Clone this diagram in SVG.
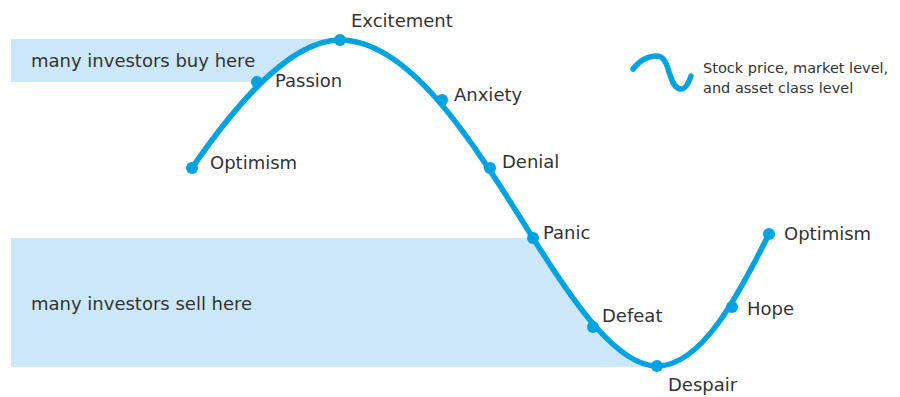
<svg xmlns="http://www.w3.org/2000/svg" width="900" height="397" viewBox="0 0 900 397">
  <style>
    .lbl { font-family: "DejaVu Sans", "Liberation Sans", sans-serif; font-size: 18px; fill: #333333; }
    .legend { font-family: "DejaVu Sans", "Liberation Sans", sans-serif; font-size: 14.5px; fill: #333333; }
    .zone { fill: #cce7f7; }
    .curve { fill: none; stroke: #00a3e0; stroke-width: 5.5; stroke-linecap: round; stroke-linejoin: round; }
    .dot { fill: #00a3e0; }
  </style>
  <defs>
    <!-- area left of the rising flank -->
    <clipPath id="clip-buy">
      <path d="M0,0 L340,0 L340,40 C285,40 225,120 192,168 L0,168 Z"/>
    </clipPath>
    <!-- area left of the falling flank -->
    <clipPath id="clip-sell">
      <path d="M0,230 L533,230 L533,238 C573,302 617,366 657,366 L657,400 L0,400 Z"/>
    </clipPath>
  </defs>

  <rect width="900" height="397" fill="#ffffff"/>

  <!-- shaded zones -->
  <g id="zone-buy">
    <rect class="zone" x="11" y="39" width="340" height="43" clip-path="url(#clip-buy)"/>
    <text class="lbl" x="31" y="67">many investors buy here</text>
  </g>
  <g id="zone-sell">
    <rect class="zone" x="11" y="238" width="660" height="129" clip-path="url(#clip-sell)"/>
    <text class="lbl" x="31" y="310">many investors sell here</text>
  </g>

  <!-- market cycle curve -->
  <g id="connectors">
    <path class="curve" d="M192,168 C225,120 285,40 340,40 C410,40 473,142 533,238 C573,302 617,366 657,366 C702,366 739,294 769,234"/>
  </g>

  <!-- stages -->
  <g id="optimism-start">
    <circle class="dot" cx="192" cy="168" r="6"/>
    <text class="lbl" x="210" y="169">Optimism</text>
  </g>
  <g id="passion">
    <circle class="dot" cx="257" cy="82" r="6"/>
    <text class="lbl" x="275" y="87">Passion</text>
  </g>
  <g id="excitement">
    <circle class="dot" cx="340" cy="40" r="6"/>
    <text class="lbl" x="351" y="27">Excitement</text>
  </g>
  <g id="anxiety">
    <circle class="dot" cx="442" cy="100" r="6"/>
    <text class="lbl" x="454" y="101">Anxiety</text>
  </g>
  <g id="denial">
    <circle class="dot" cx="490" cy="168" r="6"/>
    <text class="lbl" x="502" y="168">Denial</text>
  </g>
  <g id="panic">
    <circle class="dot" cx="533" cy="238" r="6"/>
    <text class="lbl" x="543" y="239">Panic</text>
  </g>
  <g id="defeat">
    <circle class="dot" cx="593" cy="327" r="6"/>
    <text class="lbl" x="602" y="322">Defeat</text>
  </g>
  <g id="despair">
    <circle class="dot" cx="657" cy="366" r="6"/>
    <text class="lbl" x="668" y="391">Despair</text>
  </g>
  <g id="hope">
    <circle class="dot" cx="732" cy="307" r="6"/>
    <text class="lbl" x="747" y="315">Hope</text>
  </g>
  <g id="optimism-end">
    <circle class="dot" cx="769" cy="234" r="6"/>
    <text class="lbl" x="784" y="240">Optimism</text>
  </g>

  <!-- legend -->
  <g id="legend">
    <path class="curve" d="M633,69 C640,60 648,56 657,56 C664,56 667,64 669,72 C672,82 675,89 681,89 C686,89 689,82 691,76"/>
    <text class="legend" x="703" y="73">Stock price, market level,</text>
    <text class="legend" x="703" y="93">and asset class level</text>
  </g>
</svg>
